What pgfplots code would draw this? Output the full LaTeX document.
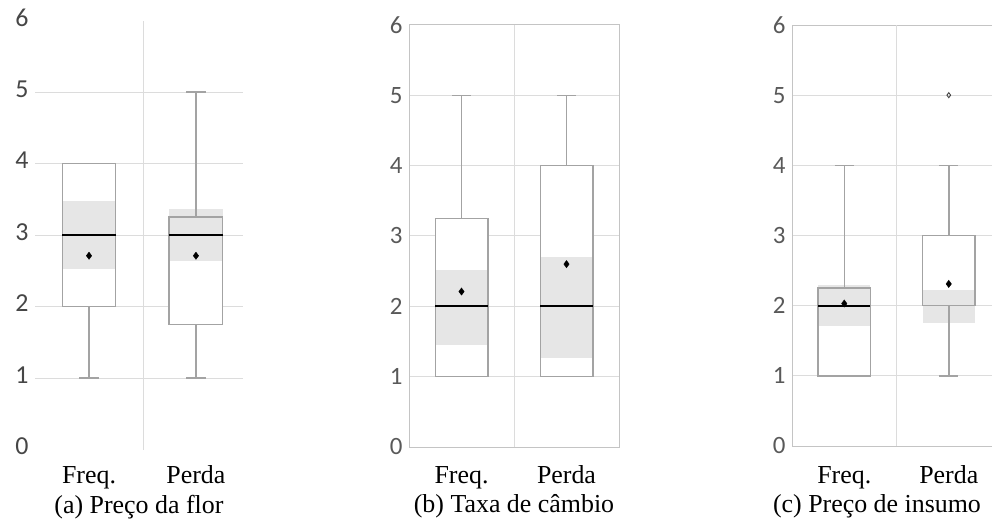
\documentclass[border=0pt]{standalone}
\usepackage{pgfplots}
\pgfplotsset{compat=1.18}
\usepgfplotslibrary{statistics}
\usepackage{fontspec}
\setmainfont{Liberation Serif}
\newfontfamily\calibri{Carlito}
\definecolor{gridc}{HTML}{DCDCDC}
\definecolor{framec}{HTML}{C4C4C4}
\definecolor{boxc}{HTML}{A3A3A3}
\definecolor{shadec}{HTML}{E6E6E6}
\definecolor{tickc}{HTML}{595959}
\definecolor{tickca}{HTML}{464646}

\pgfplotsset{
  panel/.style={
    scale only axis,
    ymin=0, ymax=6,
    ytick={0,...,6},
    xtick={1,2},
    xticklabels={Freq., Perda},
    major tick length=0pt,
    tick style={draw=none},
    /pgf/number format/assume math mode=true,
    yticklabel style={font=\calibri\fontsize{25}{25}\selectfont, text=tickc, anchor=east, xshift=-3bp},
    xticklabel style={font=\fontsize{26}{26}\selectfont, anchor=base},
    xlabel style={font=\fontsize{26}{26}\selectfont, at={(axis description cs:0.5,0)}, anchor=base},
    clip=false,
    grid style={gridc, line width=1bp},
    axis line style={framec, line width=1bp},
    boxplot/draw direction=y,
  },
  whitebox/.style={boxplot prepared={#1, box extend=0.5, whisker extend=0.18}, draw=none, fill=white,
    boxplot/every box/.style={draw=none, fill=white},
    boxplot/every whisker/.style={draw=none},
    boxplot/every median/.style={draw=none}},
  outbox/.style={boxplot prepared={#1, box extend=0.5, whisker extend=0.18}, draw=boxc, fill=none, line width=1.5bp,
    boxplot/every box/.style={draw=boxc, fill=none, line width=1.5bp},
    boxplot/every whisker/.style={draw=boxc, line width=1.5bp},
    boxplot/every median/.style={draw=black, line width=2bp}},
  meanmark/.style={only marks, mark=diamond*, mark size=3.6bp, black},
  shade/.style={fill=shadec, draw=none},
}

\begin{document}
\begin{tikzpicture}
% (a) Preco da flor
\begin{axis}[panel,
  at={(35bp,73.5bp)}, anchor=south west,
  width=208bp, height=429bp,
  xmin=0.495, xmax=2.44,
  axis line style={draw=none},
  yticklabel style={font=\calibri\fontsize{26}{26}\selectfont, text=tickca, yshift=3bp},
  xticklabel style={yshift=-33.5bp},
  xlabel style={yshift=-63.5bp},
  xlabel={(a) Preço da flor},
  extra y ticks={1,2,3,4,5}, extra y tick labels={},
  extra y tick style={ymajorgrids=true},
  extra x ticks={1.514}, extra x tick labels={},
  extra x tick style={xmajorgrids=true},
]
\addplot[whitebox={draw position=1, lower whisker=1, lower quartile=2, median=3, upper quartile=4, upper whisker=4}] coordinates {};
\addplot[whitebox={draw position=2, lower whisker=1, lower quartile=1.75, median=3, upper quartile=3.25, upper whisker=5}] coordinates {};
\addplot[shade] coordinates {(0.75,2.53) (1.25,2.53) (1.25,3.47) (0.75,3.47)};
\addplot[shade] coordinates {(1.75,2.63) (2.25,2.63) (2.25,3.36) (1.75,3.36)};
\addplot[outbox={draw position=1, lower whisker=1, lower quartile=2, median=3, upper quartile=4, upper whisker=4}] coordinates {};
\addplot[outbox={draw position=2, lower whisker=1, lower quartile=1.75, median=3, upper quartile=3.25, upper whisker=5}] coordinates {};
\addplot[meanmark] coordinates {(1,2.71) (2,2.71)};
\end{axis}

% (b) Taxa de cambio
\begin{axis}[panel,
  at={(409bp,76bp)}, anchor=south west,
  width=210bp, height=422bp,
  xmin=0.5, xmax=2.5,
  ymajorgrids=true,
  xticklabel style={yshift=-36bp},
  xlabel style={yshift=-65.5bp},
  xlabel={(b) Taxa de câmbio},
  extra x ticks={1.5}, extra x tick labels={},
  extra x tick style={xmajorgrids=true},
]
\addplot[whitebox={draw position=1, lower whisker=1, lower quartile=1, median=2, upper quartile=3.25, upper whisker=5}] coordinates {};
\addplot[whitebox={draw position=2, lower whisker=1, lower quartile=1, median=2, upper quartile=4, upper whisker=5}] coordinates {};
\addplot[shade] coordinates {(0.75,1.45) (1.25,1.45) (1.25,2.52) (0.75,2.52)};
\addplot[shade] coordinates {(1.75,1.27) (2.25,1.27) (2.25,2.70) (1.75,2.70)};
\addplot[outbox={draw position=1, lower whisker=1, lower quartile=1, median=2, upper quartile=3.25, upper whisker=5}] coordinates {};
\addplot[outbox={draw position=2, lower whisker=1, lower quartile=1, median=2, upper quartile=4, upper whisker=5}] coordinates {};
\addplot[meanmark] coordinates {(1,2.21) (2,2.6)};
\end{axis}

% (c) Preco de insumo
\begin{axis}[panel,
  at={(792bp,77bp)}, anchor=south west,
  width=209bp, height=421bp,
  xmin=0.5, xmax=2.5,
  ymajorgrids=true,
  xticklabel style={yshift=-37bp},
  xlabel style={yshift=-66.5bp, xshift=-19.5bp},
  xlabel={(c) Preço de insumo},
  extra x ticks={1.5}, extra x tick labels={},
  extra x tick style={xmajorgrids=true},
]
\addplot[whitebox={draw position=1, lower whisker=1, lower quartile=1, median=2, upper quartile=2.25, upper whisker=4}] coordinates {};
\addplot[whitebox={draw position=2, lower whisker=1, lower quartile=2, median=2, upper quartile=3, upper whisker=4}] coordinates {};
\addplot[shade] coordinates {(0.75,1.71) (1.25,1.71) (1.25,2.29) (0.75,2.29)};
\addplot[shade] coordinates {(1.75,1.75) (2.25,1.75) (2.25,2.23) (1.75,2.23)};
\addplot[outbox={draw position=1, lower whisker=1, lower quartile=1, median=2, upper quartile=2.25, upper whisker=4}] coordinates {};
\addplot[outbox={draw position=2, lower whisker=1, lower quartile=2, median=2, upper quartile=3, upper whisker=4},
  boxplot/every median/.style={draw=boxc, line width=1.5bp}] coordinates {};
\addplot[meanmark] coordinates {(1,2.03) (2,2.31)};
\addplot[only marks, mark=diamond, mark size=2.5bp, draw=black!75, line width=0.9bp] coordinates {(2,5)};
\end{axis}
\pgfresetboundingbox
\useasboundingbox (0,0) rectangle (992bp,523bp);
\end{tikzpicture}
\end{document}
